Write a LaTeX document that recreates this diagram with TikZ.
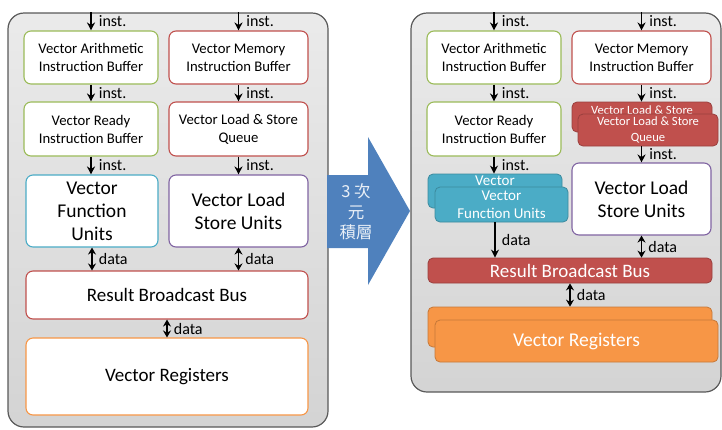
\documentclass[tikz,border=0pt]{standalone}
\usepackage{fontspec}
\setmainfont{Carlito}
\newfontfamily\cjk{Noto Sans CJK TC}
\usepackage{tikz}
\usetikzlibrary{arrows.meta}

\definecolor{bufgreen}{RGB}{155,187,89}
\definecolor{bufred}{RGB}{192,80,77}
\definecolor{unitcyan}{RGB}{75,172,198}
\definecolor{unitpurple}{RGB}{128,100,162}
\definecolor{regorange}{RGB}{247,150,70}
\definecolor{arrowblue}{RGB}{79,129,189}

\begin{document}
\begin{tikzpicture}[x=1pt, y=-1pt,
  panel/.style={draw=black!65, line width=1.2pt, rounded corners=16pt,
    top color=gray!16, bottom color=gray!34},
  buf/.style={draw=#1, line width=1.1pt, rounded corners=7pt, fill=white,
    align=center, inner sep=0pt, font=\fontsize{14.7}{18}\selectfont},
  unitbox/.style={buf=#1, font=\fontsize{19.5}{23}\selectfont},
  busbox/.style={buf=#1, font=\fontsize{19}{22}\selectfont},
  stackbox/.style={draw=#1!80!black, fill=#1, line width=0.8pt,
    rounded corners=5pt, inner sep=0pt, align=center, text=white},
  flow/.style={-{Stealth[length=8pt,width=8pt]}, line width=1.7pt},
  dflow/.style={{Stealth[length=7pt,width=8pt]}-{Stealth[length=7pt,width=8pt]},
    line width=1.7pt},
  lbl/.style={right, inner sep=0pt, xshift=7pt, font=\fontsize{16}{18}\selectfont}]
  \useasboundingbox (0,0) rectangle (722,429);

  % ── Left panel: planar layout ──
  \node[panel, minimum width=320, minimum height=414] (lpanel) at (168,220) {};

  % ── 3D stacking arrow ──
  \fill[arrowblue] (327,175) -- (368,175) -- (368,137) -- (410,211)
    -- (368,285) -- (368,248) -- (327,248) -- cycle;
  \node[text=white!88!arrowblue, align=center, font=\cjk\fontsize{16.5}{20.5}\selectfont]
    (stacktxt) at (356,212) {3 次\\元\\積層};

  % ── Right panel: stacked layout ──
  \node[panel, minimum width=310, minimum height=379] (rpanel) at (566,202.5) {};

  % left column boxes
  \node[buf=bufgreen, minimum width=134, minimum height=53] (arithL) at (91,57.5)
    {Vector Arithmetic\\Instruction Buffer};
  \node[buf=bufred, minimum width=139, minimum height=53] (memL) at (238.5,57.5)
    {Vector Memory\\Instruction Buffer};
  \node[buf=bufgreen, minimum width=134, minimum height=54] (readyL) at (91,129)
    {Vector Ready\\Instruction Buffer};
  \node[buf=bufred, minimum width=139, minimum height=54] (queueL) at (238.5,129)
    {Vector Load \& Store\\Queue};
  \node[unitbox=unitcyan, minimum width=132, minimum height=72] (funcL) at (92,211)
    {Vector\\Function\\Units};
  \node[unitbox=unitpurple, minimum width=139, minimum height=72] (lsuL) at (238.5,211)
    {Vector Load\\Store Units};
  \node[busbox=bufred, minimum width=282, minimum height=48] (busL) at (167,295)
    {Result Broadcast Bus};
  \node[busbox=regorange, minimum width=282, minimum height=77] (regL) at (167,376.5)
    {Vector Registers};

  \draw[flow] (lpanel.north -| arithL) -- node[lbl] {inst.} (arithL);
  \draw[flow] (lpanel.north -| memL) -- node[lbl] {inst.} (memL);
  \draw[flow] (arithL) -- node[lbl] {inst.} (readyL);
  \draw[flow] (memL) -- node[lbl] {inst.} (queueL);
  \draw[flow] (readyL) -- node[lbl] {inst.} (readyL |- funcL.north);
  \draw[flow] (queueL) -- node[lbl] {inst.} (lsuL);
  \draw[dflow] (funcL) -- node[lbl, xshift=-1pt] {data} (funcL |- busL.north);
  \draw[dflow] (lsuL) -- node[lbl, xshift=-1pt] {data} (lsuL |- busL.north);
  \draw[dflow] (busL) -- node[lbl, xshift=-1pt] {data} (regL);

  % right column boxes
  \node[buf=bufgreen, minimum width=134, minimum height=53] (arithR) at (494,57.5)
    {Vector Arithmetic\\Instruction Buffer};
  \node[buf=bufred, minimum width=139, minimum height=53] (memR) at (641.5,57.5)
    {Vector Memory\\Instruction Buffer};
  \node[buf=bufgreen, minimum width=134, minimum height=54] (readyR) at (494,129)
    {Vector Ready\\Instruction Buffer};

  % stacked queue
  \node[stackbox=bufred, minimum width=140, minimum height=30,
    label={[anchor=north, inner sep=1.5pt, yshift=-2pt, text=white, font=\fontsize{12.6}{14}\selectfont]north:Vector Load \& Store}]
    (qback) at (642,117) {};
  \node[stackbox=bufred, minimum width=140, minimum height=32,
    font=\fontsize{12.6}{15.5}\selectfont] (qfront) at (648,130)
    {Vector Load \& Store\\Queue};
  \node[unitbox=unitpurple, minimum width=139, minimum height=72] (lsuR) at (641.5,199)
    {Vector Load\\Store Units};

  % stacked function units
  \node[stackbox=unitcyan, minimum width=134, minimum height=34,
    label={[anchor=north, inner sep=1.5pt, yshift=-1pt, text=white, font=\fontsize{15}{17}\selectfont]north:Vector}]
    (fback) at (495,191) {};
  \node[stackbox=unitcyan, minimum width=133, minimum height=35,
    font=\fontsize{15}{18}\selectfont] (ffront) at (501.5,204.5)
    {Vector\\Function Units};

  \node[stackbox=bufred, minimum width=284, minimum height=25,
    font=\fontsize{19}{22}\selectfont] (busR) at (570,270.5) {Result Broadcast Bus};

  % stacked registers
  \node[stackbox=regorange, minimum width=284, minimum height=40] (regback) at (570,327) {};
  \node[stackbox=regorange, minimum width=283, minimum height=42,
    font=\fontsize{19.5}{22}\selectfont] (regfront) at (576.5,341) {Vector Registers};

  \draw[flow] (rpanel.north -| arithR) -- node[lbl] {inst.} (arithR);
  \draw[flow] (rpanel.north -| memR) -- node[lbl] {inst.} (memR);
  \draw[flow] (arithR) -- node[lbl] {inst.} (readyR);
  \draw[flow] (memR) -- node[lbl] {inst.} (memR |- qback.north);
  \draw[flow] (readyR) -- node[lbl] {inst.} (readyR |- fback.north);
  \draw[flow] (qfront.south -| lsuR) -- node[lbl] {inst.} (lsuR);
  \draw[flow] (ffront.south -| fback) -- node[lbl, xshift=-1pt] {data} (busR.north -| fback);
  \draw[dflow] (lsuR) -- node[lbl, xshift=-1pt] {data} (lsuR |- busR.north);
  \draw[dflow] (busR) -- node[lbl, xshift=-1pt] {data} (regback);
\end{tikzpicture}
\end{document}
